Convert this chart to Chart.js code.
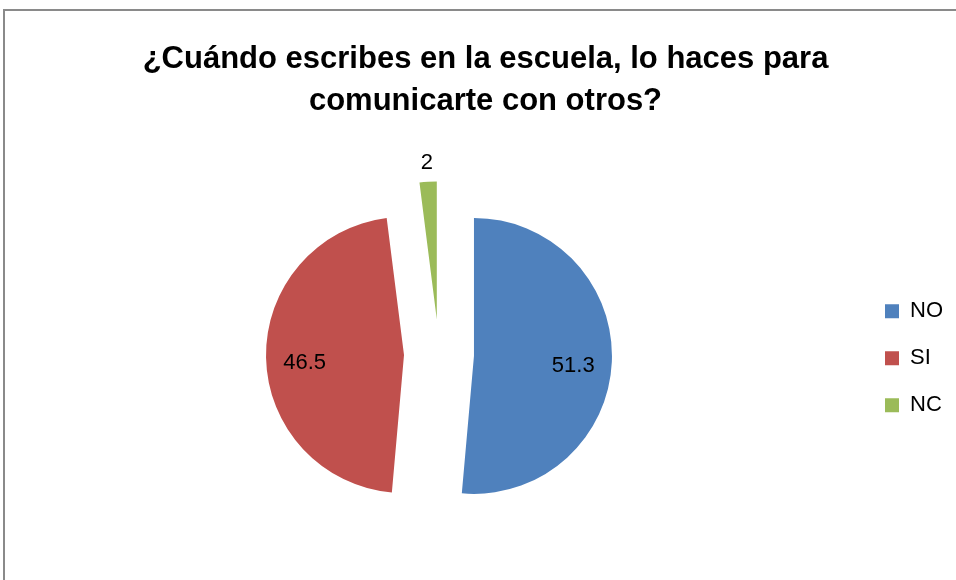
<!DOCTYPE html>
<html>
<head>
<meta charset="utf-8">
<script src="https://cdn.jsdelivr.net/npm/chart.js@4"></script>
<style>
html,body{margin:0;padding:0;overflow:hidden;background:#fff}
#marco{position:absolute;left:3px;top:9px;width:980px;height:600px;border:2px solid #8a8a8a}
#lienzo{position:absolute;left:0;top:0}
</style>
</head>
<body>
<div id="marco">
<canvas id="lienzo" width="962" height="569"></canvas>
</div>
<script>
let categorias=['NO','SI','NC']
let valores=[51.3,46.5,2]
let colores=['#4F81BD','#C0504D','#9BBB59']
let titulo=['¿Cuándo escribes en la escuela, lo haces para','comunicarte con otros?']

let fuente='"Liberation Sans", Arial, sans-serif'

// separacion de cada porcion respecto al centro (px)
let separacion=35

function desplazamiento(arc){
let p=arc.getProps(['startAngle','endAngle'],true)
let mitad=(p.startAngle+p.endAngle)/2
return{dx:Math.cos(mitad)*separacion,dy:Math.sin(mitad)*separacion,mitad}
}

// dibuja las porciones separadas (pie "explotado")
let separar={
id:'separar',
beforeDatasetDraw(chart,args){
let ctx=chart.ctx
args.meta.data.forEach(arc=>{
let d=desplazamiento(arc)
ctx.save()
ctx.translate(d.dx,d.dy)
arc.draw(ctx)
ctx.restore()
})
return false
}
}

// leyenda centrada en el area del grafico
let ajusteLeyenda={
id:'ajusteLeyenda',
afterLayout(chart){
let lg=chart.legend
lg.top=chart.chartArea.top+8
lg.bottom=chart.chartArea.bottom
lg.height=lg.bottom-lg.top
}
}

let etiquetas={
id:'etiquetas',
afterDatasetsDraw(chart){
let ctx=chart.ctx
let meta=chart.getDatasetMeta(0)
let total=valores.reduce((a,b)=>a+b,0)
ctx.save()
ctx.font='22px '+fuente
ctx.fillStyle='#000'
ctx.textAlign='center'
ctx.textBaseline='middle'
meta.data.forEach((arc,i)=>{
let p=arc.getProps(['x','y','outerRadius'],true)
let d=desplazamiento(arc)
let fuera=valores[i]/total<0.05
let r=fuera?p.outerRadius+19:p.outerRadius*0.72
let x=p.x+d.dx+Math.cos(d.mitad)*r
let y=p.y+d.dy+Math.sin(d.mitad)*r+(fuera?0:6)
ctx.fillText(String(valores[i]),x,y)
})
ctx.restore()
}
}

new Chart(document.getElementById('lienzo'),{
type:'pie',
data:{
labels:categorias,
datasets:[{
data:valores,
backgroundColor:colores,
borderWidth:0
}]
},
options:{
responsive:false,
animation:false,
radius:138,
layout:{padding:{left:13,right:14,top:0,bottom:2}},
plugins:{
title:{
display:true,
text:titulo,
color:'#000',
font:{family:fuente,size:31,weight:'bold',lineHeight:1.35},
padding:{top:28,bottom:8}
},
legend:{
position:'right',
labels:{
color:'#000',
boxWidth:14,
boxHeight:14,
padding:25,
font:{family:fuente,size:22}
}
},
tooltip:{enabled:false}
}
},
plugins:[separar,ajusteLeyenda,etiquetas]
})
</script>
</body>
</html>
